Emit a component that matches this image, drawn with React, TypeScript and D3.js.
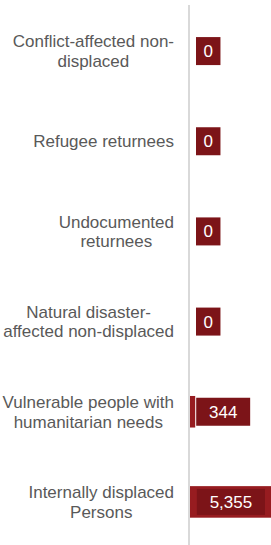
import { useMemo } from "react";
import * as d3 from "d3";

const categories = [
  "Conflict-affected non-displaced",
  "Refugee returnees",
  "Undocumented returnees",
  "Natural disaster-affected non-displaced",
  "Vulnerable people with humanitarian needs",
  "Internally displaced Persons",
];

const labelLines = [
  ["Conflict-affected non-", "displaced"],
  ["Refugee returnees"],
  ["Undocumented", "returnees"],
  ["Natural disaster-", "affected non-displaced"],
  ["Vulnerable people with", "humanitarian needs"],
  ["Internally displaced", "Persons"],
];

const values = [0, 0, 0, 0, 344, 5355];

const WIDTH = 271;
const HEIGHT = 545;
const AXIS_X = 190;
const LABEL_RIGHT = 174;
const FONT = "17px 'Liberation Sans', Arial, sans-serif";
const BAR_COLOR = "#971c20";
const BOX_COLOR = "#7c1418";
const TEXT_COLOR = "#595959";

const fmt = d3.format(",");

let ctx: CanvasRenderingContext2D | null = null;
const textWidth = (s: string) => {
  if (!ctx) ctx = document.createElement("canvas").getContext("2d");
  if (!ctx) return s.length * 9;
  ctx.font = FONT;
  return ctx.measureText(s).width;
};

export default function App() {
  const x = useMemo(
    () => d3.scaleLinear().domain([0, 5355]).range([AXIS_X, 271]),
    []
  );
  const y = useMemo(
    () =>
      d3
        .scaleBand<string>()
        .domain(categories)
        .range([6, 547])
        .paddingInner(0.65)
        .paddingOuter(0.325),
    []
  );

  return (
    <svg
      width={WIDTH}
      height={HEIGHT}
      style={{ position: "absolute", left: 0, top: 0, fontFamily: "'Liberation Sans', Arial, sans-serif" }}
    >
      {categories.map((c, i) => {
        const cy = y(c)! + y.bandwidth() / 2;
        const lines = labelLines[i];
        const maxW = d3.max(lines, textWidth) ?? 0;
        const cx = LABEL_RIGHT - maxW / 2;
        const lh = 19.5;
        const first = cy - ((lines.length - 1) * lh) / 2 + 6;
        return (
          <text key={c} x={cx} textAnchor="middle" fontSize={17} fill={TEXT_COLOR}>
            {lines.map((l, j) => (
              <tspan key={j} x={cx} y={first + j * lh}>
                {l}
              </tspan>
            ))}
          </text>
        );
      })}

      {categories.map((c, i) => {
        const v = values[i];
        const barEnd = x(v);
        return (
          <rect
            key={c}
            x={AXIS_X}
            y={y(c)!}
            width={barEnd - AXIS_X}
            height={y.bandwidth()}
            fill={BAR_COLOR}
          />
        );
      })}

      <line x1={189} x2={189} y1={5} y2={HEIGHT} stroke="#d9d9d9" strokeWidth={2} />

      {categories.map((c, i) => {
        const v = values[i];
        const label = fmt(v);
        const cy = y(c)! + y.bandwidth() / 2;
        const tw = textWidth(label);
        const pad = v === 0 ? 7.5 : 12.8;
        const bw = tw + pad * 2;
        const barEnd = x(v);
        const inside = barEnd - AXIS_X > bw + 12;
        const bx = inside ? barEnd - 6 - bw : Math.max(AXIS_X + 6, barEnd + 1);
        const bh = inside ? 26 : 28;
        return (
          <g key={c}>
            <rect x={bx} y={cy - bh / 2} width={bw} height={bh} fill={BOX_COLOR} />
            <text
              x={bx + bw / 2}
              y={cy + 6}
              textAnchor="middle"
              fontSize={17}
              fill="#ffffff"
            >
              {label}
            </text>
          </g>
        );
      })}
    </svg>
  );
}
